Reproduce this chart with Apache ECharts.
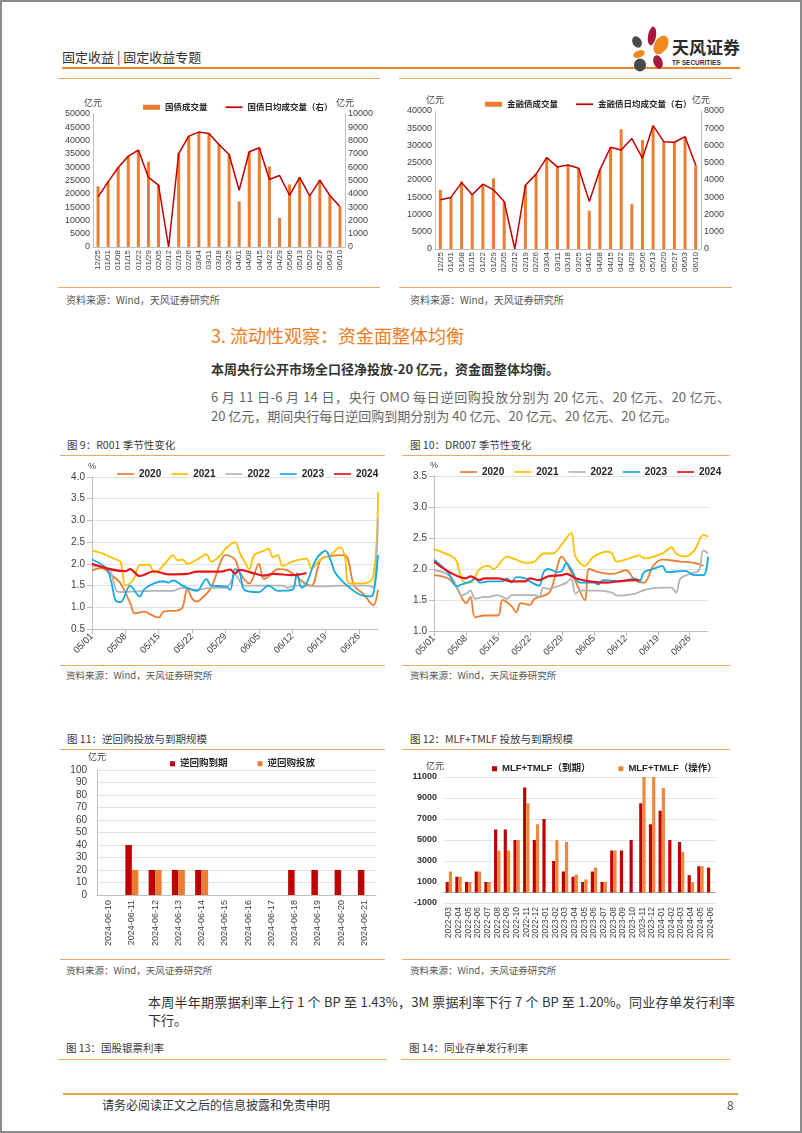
<!DOCTYPE html>
<html>
<head>
<meta charset="utf-8">
<script src="https://cdn.jsdelivr.net/npm/echarts@6.0.0/dist/echarts.min.js"></script>
<style>
  html,body{margin:0;padding:0;background:#fff;}
  body{width:802px;height:1133px;position:relative;overflow:hidden;font-family:"Noto Sans CJK SC","Noto Sans",sans-serif;}
  .frame{position:absolute;left:0;top:0;width:802px;height:1133px;border:2px solid #8c8c8c;box-sizing:border-box;pointer-events:none;}
  .t{position:absolute;white-space:nowrap;line-height:1;}
  .hl{position:absolute;height:0;}
  .chart{position:absolute;}
</style>
</head>
<body>
<div class="frame"></div>

<!-- header -->
<div class="t" style="left:62px;top:50px;font-size:13px;color:#333;">固定收益 | 固定收益专题</div>
<div class="hl" style="left:62px;top:67px;width:678px;border-top:2px solid #E8892E;"></div>
<svg style="position:absolute;left:628px;top:25px" width="44" height="48" viewBox="0 0 44 48">
  <ellipse cx="24" cy="11" rx="4" ry="9.5" fill="#A8183F" transform="rotate(10 24 11)"/>
  <ellipse cx="9" cy="17" rx="4.5" ry="6" fill="#4a4a4a" transform="rotate(-30 9 17)"/>
  <ellipse cx="33" cy="20" rx="6.5" ry="10" fill="#F08A1C" transform="rotate(30 33 20)"/>
  <ellipse cx="11" cy="29" rx="6" ry="3.5" fill="#F08A1C" transform="rotate(-20 11 29)"/>
  <ellipse cx="30" cy="37" rx="4.5" ry="7" fill="#A8183F" transform="rotate(-20 30 37)"/>
  <ellipse cx="12" cy="40" rx="6" ry="6.5" fill="#4a4a4a"/>
</svg>
<div class="t" style="left:672px;top:38px;font-size:17px;font-weight:bold;color:#2b2b2b;">天风证券</div>
<div class="t" style="left:672px;top:60px;font-size:6.5px;font-weight:bold;color:#333;font-family:'Liberation Sans',sans-serif;">TF SECURITIES</div>

<!-- top charts frame lines -->
<div class="hl" style="left:58px;top:78px;width:322px;border-top:1.5px solid #F2A766;"></div>
<div class="hl" style="left:399px;top:78px;width:333px;border-top:1.5px solid #F2A766;"></div>
<div id="c1" class="chart" style="left:57px;top:82px;width:325px;height:203px;"></div>
<div id="c2" class="chart" style="left:392px;top:82px;width:340px;height:203px;"></div>
<div class="hl" style="left:58px;top:287px;width:322px;border-top:1.5px solid #F2A766;"></div>
<div class="hl" style="left:399px;top:287px;width:333px;border-top:1.5px solid #F2A766;"></div>
<div class="t" style="left:66px;top:295px;font-size:10px;color:#555;">资料来源：Wind，天风证券研究所</div>
<div class="t" style="left:410px;top:295px;font-size:10px;color:#555;">资料来源：Wind，天风证券研究所</div>

<!-- section text -->
<div class="t" style="left:211px;top:326px;font-size:18px;color:#EE7D22;">3. 流动性观察：资金面整体均衡</div>
<div class="t" style="left:211px;top:362px;font-size:13px;font-weight:bold;color:#333;">本周央行公开市场全口径净投放-20 亿元，资金面整体均衡。</div>
<div class="t" style="left:211px;top:390px;width:519px;font-size:13px;color:#666;white-space:normal;text-align:justify;text-align-last:justify;">6 月 11 日-6 月 14 日，央行 OMO 每日逆回购投放分别为 20 亿元、20 亿元、20 亿元、</div>
<div class="t" style="left:211px;top:409px;font-size:13px;color:#666;">20 亿元，期间央行每日逆回购到期分别为 40 亿元、20 亿元、20 亿元、20 亿元。</div>

<!-- fig 9 / 10 -->
<div class="t" style="left:67px;top:440px;font-size:10.5px;color:#3a3a3a;">图 9：R001 季节性变化</div>
<div class="t" style="left:410px;top:440px;font-size:10.5px;color:#3a3a3a;">图 10：DR007 季节性变化</div>
<div class="hl" style="left:60px;top:455px;width:325px;border-top:1.5px solid #F2A766;"></div>
<div class="hl" style="left:402px;top:455px;width:328px;border-top:1.5px solid #F2A766;"></div>
<div id="c3" class="chart" style="left:60px;top:458px;width:330px;height:206px;"></div>
<div id="c4" class="chart" style="left:400px;top:458px;width:330px;height:206px;"></div>
<div class="hl" style="left:60px;top:665px;width:325px;border-top:1.5px solid #F2A766;"></div>
<div class="hl" style="left:402px;top:665px;width:328px;border-top:1.5px solid #F2A766;"></div>
<div class="t" style="left:66px;top:671px;font-size:9.5px;color:#555;">资料来源：Wind，天风证券研究所</div>
<div class="t" style="left:410px;top:671px;font-size:9.5px;color:#555;">资料来源：Wind，天风证券研究所</div>

<!-- fig 11 / 12 -->
<div class="t" style="left:67px;top:734px;font-size:10.5px;color:#3a3a3a;">图 11：逆回购投放与到期规模</div>
<div class="t" style="left:410px;top:734px;font-size:10.5px;color:#3a3a3a;">图 12：MLF+TMLF 投放与到期规模</div>
<div class="hl" style="left:60px;top:749px;width:325px;border-top:1.5px solid #F2A766;"></div>
<div class="hl" style="left:402px;top:749px;width:328px;border-top:1.5px solid #F2A766;"></div>
<div id="c5" class="chart" style="left:60px;top:752px;width:330px;height:206px;"></div>
<div id="c6" class="chart" style="left:400px;top:752px;width:330px;height:206px;"></div>
<div class="hl" style="left:60px;top:959px;width:325px;border-top:1.5px solid #F2A766;"></div>
<div class="hl" style="left:402px;top:959px;width:328px;border-top:1.5px solid #F2A766;"></div>
<div class="t" style="left:66px;top:966px;font-size:9.5px;color:#555;">资料来源：Wind，天风证券研究所</div>
<div class="t" style="left:410px;top:966px;font-size:9.5px;color:#555;">资料来源：Wind，天风证券研究所</div>

<!-- bottom text -->
<div class="t" style="left:148px;top:995px;width:587px;font-size:13px;color:#333;white-space:normal;text-align:justify;text-align-last:justify;">本周半年期票据利率上行 1 个 BP 至 1.43%，3M 票据利率下行 7 个 BP 至 1.20%。同业存单发行利率</div>
<div class="t" style="left:148px;top:1013px;font-size:13px;color:#333;">下行。</div>
<div class="t" style="left:66px;top:1043px;font-size:10.5px;color:#3a3a3a;">图 13：国股银票利率</div>
<div class="t" style="left:409px;top:1043px;font-size:10.5px;color:#3a3a3a;">图 14：同业存单发行利率</div>
<div class="hl" style="left:58px;top:1059px;width:329px;border-top:1.5px solid #F2A766;"></div>
<div class="hl" style="left:401px;top:1059px;width:329px;border-top:1.5px solid #F2A766;"></div>

<!-- footer -->
<div class="hl" style="left:63px;top:1093px;width:675px;border-top:2px solid #E8A33A;"></div>
<div class="t" style="left:102px;top:1099px;font-size:12px;color:#333;">请务必阅读正文之后的信息披露和免责申明</div>
<div class="t" style="left:727px;top:1099px;font-size:12px;color:#555;">8</div>

<script>
// ---------------- DATA ----------------
const weekLabels = ['12/25','01/01','01/08','01/15','01/22','01/29','02/05','02/12','02/19','02/26','03/04','03/11','03/18','03/25','04/01','04/08','04/15','04/22','04/29','05/06','05/13','05/20','05/27','06/03','06/10'];
const govVolume   = [22800,24500,29900,34200,36500,32000,23300,0,35200,41700,43200,42700,38600,34800,17100,35800,37300,30300,10900,23500,26200,19200,25200,19400,15200];
const govDailyAvg = [3770,4900,5980,6830,7290,5230,4650,0,7030,8340,8640,8540,7710,6960,4270,7160,7460,5080,5380,3890,5230,3840,5030,3870,3040];
const finVolume   = [17150,14900,19600,15700,18800,20500,13800,0,18500,21700,26500,23800,24300,23400,11100,22900,29500,34700,13000,31600,35700,31100,31000,32500,24400];
const finDailyAvg = [2850,2990,3850,3140,3760,3430,2760,0,3700,4340,5300,4760,4870,4680,2760,4590,5900,5740,6400,5260,7150,6220,6190,6510,4870];

const seasonYears = ['2020','2021','2022','2023','2024'];
const dateTicks = ['05/01','05/08','05/15','05/22','05/29','06/05','06/12','06/19','06/26'];
// [day offset from 05/01, rate %]
const r001_2020 = [[0,1.85],[2,1.9],[4,1.75],[6,1.55],[8,1.1],[9,0.86],[11,0.9],[12,0.85],[14,0.76],[15,0.9],[18,0.93],[19,1.0],[20,1.42],[21,1.2],[22,1.13],[23,1.2],[25,1.45],[27,2.05],[28,2.2],[30,2.1],[31,1.8],[33,1.55],[35,2.0],[36,1.65],[37,1.7],[39,1.88],[41,1.85],[43,1.7],[44,1.6],[46,1.5],[48,2.1],[50,2.18],[53,2.2],[55,1.5],[57,1.3],[59,1.05],[60,1.4]];
const r001_2021 = [[0,2.3],[2,2.25],[5,2.1],[6,2.05],[7,1.5],[8,1.55],[9,1.7],[10,1.97],[12,1.98],[13,1.8],[14,1.85],[16,2.1],[17,2.2],[18,2.08],[19,2.1],[20,2.0],[22,2.1],[24,2.22],[25,2.05],[27,2.2],[28,2.35],[30,2.5],[31,2.25],[32,2.05],[33,1.88],[34,2.2],[36,2.3],[37,2.35],[38,2.15],[39,2.2],[40,1.95],[42,2.05],[45,2.12],[46,1.9],[48,2.1],[50,2.2],[52,2.38],[53,2.2],[54,1.55],[57,1.55],[59,1.7],[60,3.65]];
const r001_2022 = [[0,1.95],[3,1.9],[4,1.8],[5,1.4],[6,1.35],[13,1.38],[17,1.38],[19,1.45],[22,1.4],[25,1.45],[28,1.45],[29,1.55],[30,1.75],[32,1.5],[40,1.5],[41,1.45],[43,1.5],[49,1.48],[52,1.5],[58,1.5],[59,1.45],[60,3.05]];
const r001_2023 = [[0,2.1],[3,1.9],[4,1.6],[5,1.15],[6,1.12],[8,1.5],[10,1.25],[11,1.42],[13,1.55],[15,1.6],[16,1.57],[17,1.62],[19,1.5],[21,1.4],[22,1.38],[24,1.65],[25,1.5],[28,1.48],[29,1.4],[30,1.88],[31,1.8],[32,1.4],[35,1.35],[37,1.5],[39,1.38],[42,1.4],[43,1.78],[44,1.45],[45,1.55],[47,2.1],[49,2.3],[50,2.1],[51,1.8],[53,1.55],[56,1.3],[58,1.25],[59,1.3],[60,2.2]];
const r001_2024 = [[0,2.0],[7,1.83],[8,1.88],[10,1.72],[13,1.83],[16,1.76],[20,1.77],[22,1.82],[27,1.82],[29,1.87],[30,1.78],[31,1.86],[34,1.78],[36,1.73],[38,1.77],[42,1.74],[45,1.79]];

const dr007_2020 = [[0,1.9],[3,1.85],[5,1.7],[6,1.55],[7,1.45],[8,1.55],[9,1.22],[11,1.25],[14,1.25],[15,1.5],[17,1.4],[18,1.3],[19,1.45],[21,1.42],[22,1.52],[25,1.6],[26,1.75],[28,2.2],[29,2.1],[31,1.8],[33,1.5],[34,2.0],[36,1.95],[39,1.92],[42,1.98],[44,1.82],[46,1.78],[48,2.05],[50,2.15],[54,2.12],[57,2.1],[59,2.05]];
const dr007_2021 = [[0,2.32],[4,2.2],[5,2.12],[6,1.85],[7,1.78],[8,1.78],[10,2.0],[12,2.05],[13,2.0],[16,2.2],[18,2.15],[20,2.1],[22,2.12],[24,2.25],[26,2.25],[28,2.4],[30,2.58],[31,2.2],[33,2.05],[35,2.2],[38,2.28],[39,2.25],[40,2.12],[44,2.2],[45,2.22],[46,2.17],[50,2.25],[52,2.35],[53,2.25],[55,2.2],[57,2.3],[59,2.55],[60,2.52]];
const dr007_2022 = [[0,1.98],[2,1.95],[4,1.85],[5,1.7],[6,1.57],[7,1.6],[8,1.65],[9,1.52],[11,1.55],[12,1.55],[14,1.58],[16,1.52],[17,1.58],[22,1.58],[23,1.55],[24,1.7],[25,1.68],[27,1.72],[29,1.78],[30,1.85],[31,1.6],[32,1.65],[36,1.65],[39,1.62],[40,1.57],[44,1.6],[45,1.63],[47,1.68],[50,1.7],[52,1.7],[53,1.62],[54,1.85],[56,1.92],[58,1.98],[59,2.3],[60,2.25]];
const dr007_2023 = [[0,2.15],[3,1.95],[5,1.72],[6,1.75],[8,1.8],[9,1.85],[10,1.78],[12,1.8],[15,1.8],[16,1.85],[17,1.78],[18,1.87],[20,1.85],[21,1.8],[23,1.73],[24,1.95],[25,2.0],[27,1.95],[28,1.97],[29,2.1],[30,2.0],[32,1.78],[35,1.78],[36,1.75],[37,1.82],[41,1.8],[44,1.85],[45,1.8],[46,1.95],[48,2.0],[50,2.05],[51,1.95],[55,1.97],[57,1.9],[59,1.9],[60,2.2]];
const dr007_2024 = [[0,2.12],[7,1.85],[8,1.88],[10,1.82],[11,1.85],[14,1.85],[17,1.8],[20,1.8],[21,1.85],[23,1.82],[25,1.88],[28,1.9],[29,1.92],[31,1.85],[34,1.8],[38,1.78],[40,1.8],[44,1.82],[45,1.82]];

const repoDates = ['2024-06-10','2024-06-11','2024-06-12','2024-06-13','2024-06-14','2024-06-15','2024-06-16','2024-06-17','2024-06-18','2024-06-19','2024-06-20','2024-06-21'];
const repoMaturity = [0,40,20,20,20,0,0,0,20,20,20,20];
const repoInjection = [0,20,20,20,20,0,0,0,0,0,0,0];

const mlfMonths = ['2022-03','2022-04','2022-05','2022-06','2022-07','2022-08','2022-09','2022-10','2022-11','2022-12','2023-01','2023-02','2023-03','2023-04','2023-05','2023-06','2023-07','2023-08','2023-09','2023-10','2023-11','2023-12','2024-01','2024-02','2024-03','2024-04','2024-05','2024-06'];
const mlfMaturity  = [1000,1500,1000,2000,1000,6000,6000,5000,10000,5000,7000,3000,2000,1500,1000,2000,1000,4000,4000,5000,8500,6500,7790,5000,4810,1650,2500,2370];
const mlfOperation = [2000,1500,1000,2000,1000,4000,4000,5000,8500,6500,null,4990,4810,1700,1250,2370,1030,4010,null,null,11000,11000,9950,null,3870,1000,2500,null];

// ---------------- STYLE ----------------
const FF = '"Liberation Sans","Noto Sans CJK SC",sans-serif';
const AX = '#BFBFBF', LBL = '#404040', GRID = '#E3E3E3';
const ORANGE = '#ED7D31', DARKRED = '#C00000';
const LINE_ICON = 'path://M0,0L40,0L40,4L0,4Z';
const plain = v => String(v);

function init(id){ return echarts.init(document.getElementById(id), null, {renderer:'canvas'}); }

function weekly(id, o){
  const c = init(id);
  c.setOption({
    animation:false,
    textStyle:{fontFamily:FF},
    legend:{left:o.legLeft, top:o.legTop, width:300, itemGap:o.legGap, itemWidth:17, itemHeight:5,
      textStyle:{fontSize:8.5, fontWeight:'bold', color:'#262626', fontFamily:FF},
      data:[{name:o.barName, icon:'rect'}, {name:o.lineName, icon:LINE_ICON}]},
    grid:Object.assign({outerBoundsMode:'none', containLabel:false}, o.grid),
    xAxis:{type:'category', data:weekLabels,
      axisLine:{lineStyle:{color:AX}}, axisTick:{show:false},
      axisLabel:{rotate:90, interval:0, fontSize:8, color:LBL, margin:3, fontFamily:FF}},
    yAxis:[
      {type:'value', min:0, max:o.lmax, interval:o.lint, name:'亿元', nameGap:6,
       nameTextStyle:{fontSize:9, color:LBL, fontFamily:FF},
       axisLine:{show:true, lineStyle:{color:AX}}, axisTick:{show:false}, splitLine:{show:false},
       axisLabel:{fontSize:9, color:LBL, margin:3, fontFamily:FF, formatter:plain}},
      {type:'value', min:0, max:o.rmax, interval:o.rint, name:'亿元', nameGap:6, position:'right',
       nameTextStyle:{fontSize:9, color:LBL, fontFamily:FF},
       axisLine:{show:true, lineStyle:{color:AX}}, axisTick:{show:false}, splitLine:{show:false},
       axisLabel:{fontSize:9, color:LBL, margin:3, fontFamily:FF, formatter:plain}}
    ],
    series:[
      {type:'bar', name:o.barName, data:o.bars, barWidth:3, itemStyle:{color:ORANGE}},
      {type:'line', name:o.lineName, yAxisIndex:1, data:o.line, symbol:'none',
       lineStyle:{color:DARKRED, width:1.5}, itemStyle:{color:DARKRED}}
    ]
  });
}

weekly('c1', {barName:'国债成交量', lineName:'国债日均成交量（右）', bars:govVolume, line:govDailyAvg,
  lmax:50000, lint:5000, rmax:10000, rint:1000,
  grid:{left:36, top:32, width:252, height:133}, legLeft:81, legTop:16, legGap:18});
weekly('c2', {barName:'金融债成交量', lineName:'金融债日均成交量（右）', bars:finVolume, line:finDailyAvg,
  lmax:40000, lint:5000, rmax:8000, rint:1000,
  grid:{left:43, top:29, width:266, height:138}, legLeft:88, legTop:13, legGap:18});

const seasonColors = ['#ED7D31','#FFC000','#B4B4B4','#12A9E8','#E8141B'];
function seasonal(id, o){
  const c = init(id);
  c.setOption({
    animation:false,
    textStyle:{fontFamily:FF},
    legend:{left:o.legLeft, top:o.legTop, width:320, itemGap:10, itemWidth:17, itemHeight:10,
      textStyle:{fontSize:10, fontWeight:'bold', color:'#262626', fontFamily:FF},
      data:seasonYears.map(y=>({name:y, icon:LINE_ICON}))},
    grid:Object.assign({outerBoundsMode:'none', containLabel:false}, o.grid),
    xAxis:{type:'value', min:0, max:60, interval:7,
      axisLine:{show:true, onZero:false, lineStyle:{color:AX}}, axisTick:{show:true, lineStyle:{color:AX}},
      splitLine:{show:false},
      axisLabel:{rotate:45, fontSize:9.5, color:LBL, margin:6, showMaxLabel:false, fontFamily:FF,
        formatter:v=> (v%7===0 && dateTicks[v/7]) ? dateTicks[v/7] : ''}},
    yAxis:{type:'value', min:o.ymin, max:o.ymax, interval:0.5, name:'%', nameGap:6,
      nameTextStyle:{fontSize:9, color:LBL, fontFamily:FF},
      axisLine:{show:true, lineStyle:{color:AX}}, axisTick:{show:true, lineStyle:{color:AX}},
      splitLine:{show:true, lineStyle:{color:GRID}},
      axisLabel:{fontSize:10, color:LBL, margin:7, fontFamily:FF, formatter:v=>v.toFixed(1)}},
    series:o.data.map((d,i)=>({type:'line', name:seasonYears[i], data:d, smooth:0.35, symbol:'none',
      z: i===4 ? 10 : 2+i,
      lineStyle:{color:seasonColors[i], width: i===4 ? 2.2 : 1.8}, itemStyle:{color:seasonColors[i]}}))
  });
}

seasonal('c3', {data:[r001_2020,r001_2021,r001_2022,r001_2023,r001_2024], ymin:0.5, ymax:4.0,
  grid:{left:32, top:19, width:286, height:152}, legLeft:52, legTop:6});
seasonal('c4', {data:[dr007_2020,dr007_2021,dr007_2022,dr007_2023,dr007_2024], ymin:1.0, ymax:3.5,
  grid:{left:34, top:18, width:274, height:155}, legLeft:55, legTop:4});

// reverse repo
(function(){
  const c = init('c5');
  c.setOption({
    animation:false,
    textStyle:{fontFamily:FF},
    legend:{left:105, top:2, itemGap:30, itemWidth:5, itemHeight:5, icon:'rect',
      textStyle:{fontSize:9.5, fontWeight:'bold', color:'#262626', fontFamily:FF},
      data:['逆回购到期','逆回购投放']},
    grid:{left:37, top:18, width:279, height:125, outerBoundsMode:'none', containLabel:false},
    xAxis:{type:'category', data:repoDates,
      axisLine:{lineStyle:{color:AX}}, axisTick:{show:false},
      axisLabel:{rotate:90, interval:0, fontSize:9, color:LBL, margin:5, fontFamily:FF}},
    yAxis:{type:'value', min:0, max:100, interval:10, name:'亿元', nameGap:8,
      nameTextStyle:{fontSize:9, color:LBL, fontFamily:FF},
      axisLine:{show:true, lineStyle:{color:AX}}, axisTick:{show:false},
      splitLine:{show:true, lineStyle:{color:GRID}},
      axisLabel:{fontSize:10, color:LBL, margin:10, fontFamily:FF}},
    series:[
      {type:'bar', name:'逆回购到期', data:repoMaturity, barWidth:6.5, barGap:'0%', itemStyle:{color:DARKRED}},
      {type:'bar', name:'逆回购投放', data:repoInjection, barWidth:6.5, barGap:'0%', itemStyle:{color:ORANGE}}
    ]
  });
})();

// MLF + TMLF
(function(){
  const c = init('c6');
  c.setOption({
    animation:false,
    textStyle:{fontFamily:FF},
    legend:{left:87, top:7, itemGap:28, itemWidth:5, itemHeight:5, icon:'rect',
      textStyle:{fontSize:9.5, fontWeight:'bold', color:'#262626', fontFamily:FF},
      data:['MLF+TMLF（到期）','MLF+TMLF（操作）']},
    grid:{left:44, top:25, width:271, height:126, outerBoundsMode:'none', containLabel:false},
    xAxis:[
      {type:'category', data:mlfMonths, axisLine:{show:true, onZero:true, lineStyle:{color:'#A6A6A6'}},
       axisTick:{show:false}, axisLabel:{show:false}},
      {type:'category', data:mlfMonths, position:'bottom', axisLine:{show:false, onZero:false},
       axisTick:{show:false},
       axisLabel:{rotate:90, interval:0, fontSize:8.5, color:LBL, margin:4, fontFamily:FF}}
    ],
    yAxis:{type:'value', min:-1000, max:11000, interval:2000, name:'亿元', nameGap:6,
      nameTextStyle:{fontSize:9, color:LBL, fontFamily:FF, align:'right'},
      axisLine:{show:false}, axisTick:{show:false},
      splitLine:{show:true, lineStyle:{color:GRID}},
      axisLabel:{fontSize:9, fontWeight:'bold', color:'#333', margin:7, fontFamily:FF, formatter:plain}},
    series:[
      {type:'bar', name:'MLF+TMLF（到期）', data:mlfMaturity, barWidth:3.2, barGap:'0%', itemStyle:{color:DARKRED}},
      {type:'bar', name:'MLF+TMLF（操作）', data:mlfOperation, barWidth:3.2, barGap:'0%', itemStyle:{color:'#F0883C'}}
    ]
  });
})();
</script>
</body>
</html>
